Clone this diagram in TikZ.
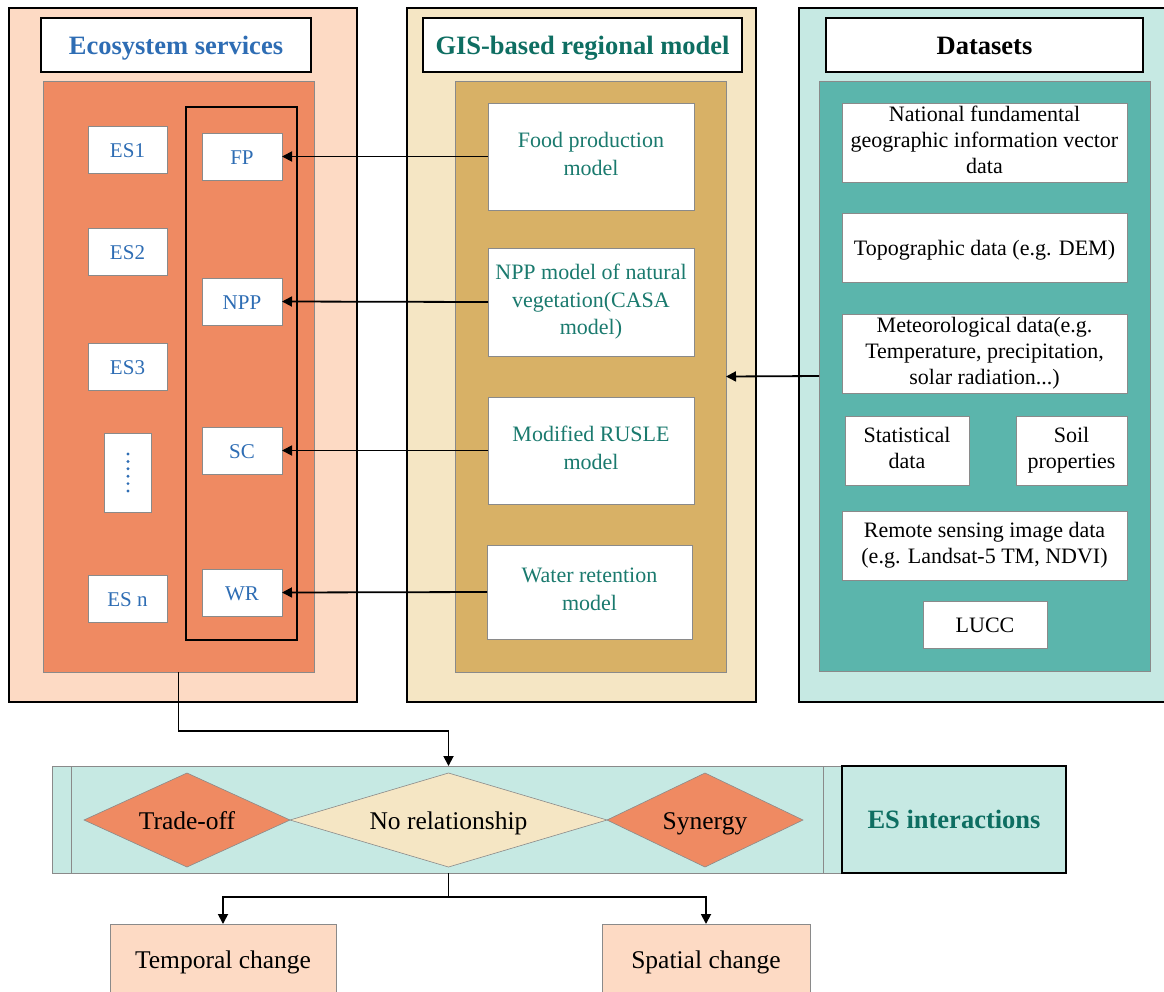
\documentclass[tikz,border=0pt]{standalone}
\usepackage{fontspec}
\setmainfont{Liberation Serif}
\usetikzlibrary{arrows.meta}
\definecolor{peach}{HTML}{FDDAC4}
\definecolor{orangeES}{HTML}{EF8A62}
\definecolor{cream}{HTML}{F5E6C4}
\definecolor{tan}{HTML}{D8B166}
\definecolor{lteal}{HTML}{C6E9E3}
\definecolor{teal}{HTML}{5BB5AC}
\definecolor{esblue}{HTML}{2E6DB4}
\definecolor{hteal}{HTML}{0E6E62}
\definecolor{mteal}{HTML}{1A7A6E}
\definecolor{boxgray}{HTML}{8A8A8A}
\newcommand\mystrut{\rule[-0.2\baselineskip]{0pt}{\baselineskip}}
\tikzset{
  every node/.style={inner sep=0pt, outer sep=0pt},
  sz/.style 2 args={minimum width=#1pt, minimum height=#2pt},
  struts/.style={execute at begin node=\mystrut, execute at end node=\mystrut},
  outerpanel/.style={draw=black, line width=1.2pt},
  innerpanel/.style={draw=boxgray, line width=0.7pt},
  hdr/.style={draw=black, fill=white, line width=1.6pt, struts, font=\fontsize{26.5}{30}\selectfont\bfseries},
  wbox/.style={draw=boxgray, fill=white, line width=0.7pt, align=center, struts},
  esbox/.style={wbox, text=esblue, font=\fontsize{21}{25}\selectfont},
  mbox/.style={wbox, text=mteal, font=\fontsize{22}{27.5}\selectfont},
  dbox/.style={wbox, text=black, font=\fontsize{22}{26}\selectfont},
  dtext/.style={struts, font=\fontsize{25.5}{30}\selectfont},
  arr/.style={-{Triangle[length=10pt,width=10pt]}, line width=1.8pt},
  conn/.style={line width=1.8pt},
}
\begin{document}
\begin{tikzpicture}[x=1pt,y=-1pt]
\useasboundingbox (0,0) rectangle (1164,991);

% ---------- Ecosystem services column ----------
\node[outerpanel, fill=peach, sz={348}{694}] (lpanel) at (183,355) {};
\node[hdr, text=esblue, sz={270}{54}] (lhead) at (176,45) {Ecosystem services};
\node[innerpanel, fill=orangeES, sz={271}{591}] (lin) at (178.5,376.5) {};
\node[draw=black, line width=1.8pt, sz={111}{533}] (lgroup) at (241.5,373.5) {};
\node[esbox, sz={79}{47}] (es1) at (127.5,149.5) {ES1};
\node[esbox, sz={79}{47}] (es2) at (127.5,251.5) {ES2};
\node[esbox, sz={79}{47}] (es3) at (127.5,366.5) {ES3};
\node[draw=boxgray, fill=white, line width=0.7pt, sz={47}{79}] (esdots) at (127.5,472.5) {};
\foreach \i in {0,...,5} \fill[esblue] (128,454+\i*7.4) circle (1.6pt);
\node[esbox, sz={79}{47}] (esn) at (127.5,599) {ES n};
\node[esbox, sz={80}{47}] (fp) at (242,156.5) {FP};
\node[esbox, sz={80}{47}] (npp) at (242,301.5) {NPP};
\node[esbox, sz={80}{47}] (sc) at (242,450.5) {SC};
\node[esbox, sz={80}{47}] (wr) at (242,592.5) {WR};

% ---------- GIS-based regional model column ----------
\node[outerpanel, fill=cream, sz={349}{694}] (mpanel) at (581.5,355) {};
\node[hdr, text=hteal, sz={319}{54}] (mhead) at (582.5,45) {GIS-based regional model};
\node[innerpanel, fill=tan, sz={271}{591}] (min) at (590.5,376.5) {};
\node[mbox, sz={206}{107}] (food) at (591,156.5) {Food production\\model};
\node[mbox, sz={206}{108}] (nppm) at (591,302) {NPP model of natural\\vegetation(CASA\\model)};
\node[mbox, sz={206}{107}] (rusle) at (591,450.5) {Modified RUSLE\\model};
\node[mbox, sz={205}{94}] (water) at (589.5,592) {Water retention\\model};

% ---------- Datasets column ----------
\node[outerpanel, fill=lteal, sz={368}{694}] (rpanel) at (983,355) {};
\node[hdr, text=black, sz={317}{54}] (rhead) at (984.5,45) {Datasets};
\node[innerpanel, fill=teal, sz={331}{590}] (rin) at (984.5,376) {};
\node[dbox, sz={285}{79}] (national) at (984.5,142.5) {National fundamental\\geographic information vector\\data};
\node[dbox, sz={285}{69}] (topo) at (984.5,247.5) {Topographic data (e.g. DEM)};
\node[dbox, sz={285}{79}] (meteo) at (984.5,353.5) {Meteorological data(e.g.\\Temperature, precipitation,\\solar radiation...)};
\node[dbox, sz={124}{69}] (stat) at (907,450.5) {Statistical\\data};
\node[dbox, sz={111}{69}] (soil) at (1071.5,450.5) {Soil\\properties};
\node[dbox, sz={285}{69}] (remote) at (984.5,545.5) {Remote sensing image data\\(e.g. Landsat-5 TM, NDVI)};
\node[dbox, sz={124}{47}] (lucc) at (985,624.5) {LUCC};

% ---------- arrows between columns ----------
\draw[arr] (food.west) -- (fp.east);
\draw[arr] (nppm.west) -- (npp.east);
\draw[arr] (rusle.west) -- (sc.east);
\draw[arr] (water.west) -- (wr.east);
\draw[arr] (rin.west) -- (min.east);

% ---------- ES interactions band ----------
\node[draw=boxgray, line width=0.8pt, fill=lteal, sz={790}{107}] (band) at (447,819.5) {};
\draw[draw=boxgray, line width=0.8pt] (71,766) -- (71,873);
\draw[draw=boxgray, line width=0.8pt] (823,766) -- (823,873);
\node[draw=black, line width=1.6pt, fill=lteal, sz={224}{107}, text=hteal, struts,
      font=\fontsize{26.5}{30}\selectfont\bfseries] (esint) at (954,819.5) {ES interactions};

\draw[draw=boxgray, line width=0.6pt, fill=orangeES] (84,820) -- (187,773) -- (290,820) -- (187,867) -- cycle;
\draw[draw=boxgray, line width=0.6pt, fill=cream] (290,820) -- (448.5,773) -- (607,820) -- (448.5,867) -- cycle;
\draw[draw=boxgray, line width=0.6pt, fill=orangeES] (607,820) -- (705,773) -- (803,820) -- (705,867) -- cycle;
\node[dtext] (tradeoff) at (187,820) {Trade-off};
\node[dtext] (norel) at (448.5,820) {No relationship};
\node[dtext] (synergy) at (705,820) {Synergy};

\draw[arr] (lin.south) -- ++(0,59) -| (band.north -| norel);

% ---------- bottom boxes ----------
\node[draw=boxgray, line width=0.7pt, fill=peach, sz={226}{70}, dtext] (temporal) at (223,959) {Temporal change};
\node[draw=boxgray, line width=0.7pt, fill=peach, sz={208}{70}, dtext] (spatial) at (706,959) {Spatial change};
\coordinate (split) at (448.5,897);
\draw[conn] (band.south -| split) -- (split);
\draw[arr] (split) -| (temporal.north);
\draw[arr] (split) -| (spatial.north);
\end{tikzpicture}
\end{document}
